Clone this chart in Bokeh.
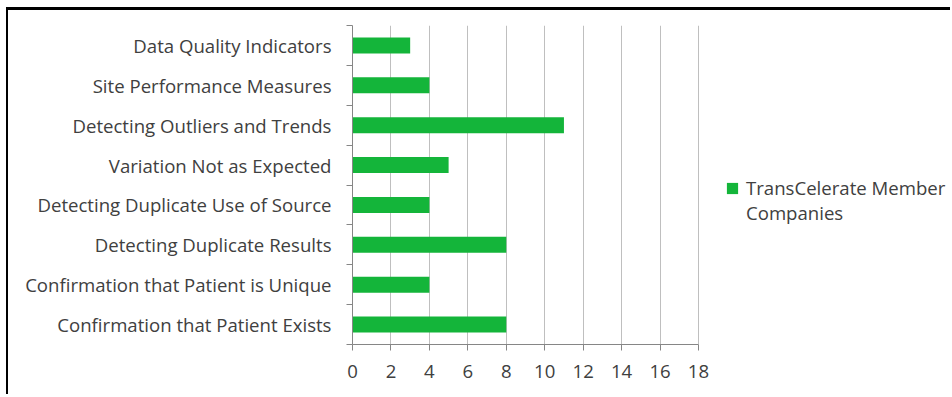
from bokeh.plotting import figure
from bokeh.models import Range1d, FixedTicker, Legend, LegendItem, ColumnDataSource
from bokeh.embed import file_html
from bokeh.resources import INLINE

categories = [
    "Data Quality Indicators",
    "Site Performance Measures",
    "Detecting Outliers and Trends",
    "Variation Not as Expected",
    "Detecting Duplicate Use of Source",
    "Detecting Duplicate Results",
    "Confirmation that Patient is Unique",
    "Confirmation that Patient Exists",
]
values = [3, 4, 11, 5, 4, 8, 4, 8]
x_ticks = [0, 2, 4, 6, 8, 10, 12, 14, 16, 18]
series_name_lines = ["TransCelerate Member", "Companies"]

n = len(categories)
ypos = [n - i - 0.5 for i in range(n)]
src = ColumnDataSource(dict(y=ypos, v=values, cat=categories))

FONT = "Open Sans"
FS = "18.6px"
TXT = "#404040"
AX = "#868686"
GRID = "#bfbfbf"
BAR = "#14b53a"

# layout: frame spans whole right part; axis/grid limited to 0..18 (346 px)
FRAME_W = 600
AXIS_PX = 346
x_max = x_ticks[-1]
x_end = x_max * FRAME_W / AXIS_PX

p = figure(width=944, height=387, output_backend="svg", toolbar_location=None,
           x_range=Range1d(0, x_end), y_range=Range1d(0, n),
           min_border_left=344, min_border_right=0, min_border_top=15, min_border_bottom=53)
p.styles = {"margin-left": "6px", "margin-top": "7px",
            "border-left": "2px solid black", "border-top": "3px solid black"}
p.outline_line_color = None
p.background_fill_color = "white"

r = p.hbar(y="y", right="v", left=0, height=0.4, source=src, fill_color=BAR, line_color=None)
dummy = p.hbar(y=[], right=[], left=0, height=0.4, fill_alpha=0, line_alpha=0)

# x axis
p.xaxis.ticker = FixedTicker(ticks=x_ticks)
p.xaxis.bounds = (0, x_max)
p.xaxis.axis_line_color = AX
p.xaxis.major_tick_line_color = AX
p.xaxis.major_tick_out = 6
p.xaxis.major_tick_in = 0
p.xaxis.minor_tick_line_color = None
p.xaxis.major_label_text_font = FONT
p.xaxis.major_label_text_font_size = FS
p.xaxis.major_label_text_color = TXT
p.xaxis.major_label_standoff = 14

# y axis
p.yaxis.ticker = FixedTicker(ticks=ypos, minor_ticks=list(range(n + 1)))
p.yaxis.major_label_overrides = {y: c for y, c in zip(ypos, categories)}
p.yaxis.axis_line_color = AX
p.yaxis.major_tick_line_color = None
p.yaxis.major_tick_out = 0
p.yaxis.major_tick_in = 0
p.yaxis.minor_tick_line_color = AX
p.yaxis.minor_tick_out = 6
p.yaxis.minor_tick_in = 0
p.yaxis.major_label_text_font = FONT
p.yaxis.major_label_text_font_size = FS
p.yaxis.major_label_text_color = TXT
p.yaxis.major_label_standoff = 15

p.xgrid.ticker = FixedTicker(ticks=x_ticks)
p.xgrid.bounds = (0, x_max)
p.xgrid.grid_line_color = GRID
p.ygrid.grid_line_color = None

legend = Legend(items=[LegendItem(label=series_name_lines[0], renderers=[r]),
                       LegendItem(label=series_name_lines[1], renderers=[dummy])],
                location=(373, 119), margin=0, padding=0, spacing=0,
                border_line_color=None, background_fill_alpha=0,
                glyph_width=14, glyph_height=14, label_standoff=7, label_height=25,
                label_text_font=FONT, label_text_font_size=FS,
                label_text_color=TXT)
p.add_layout(legend, "center")

open("out.html", "w").write(file_html(p, INLINE))
